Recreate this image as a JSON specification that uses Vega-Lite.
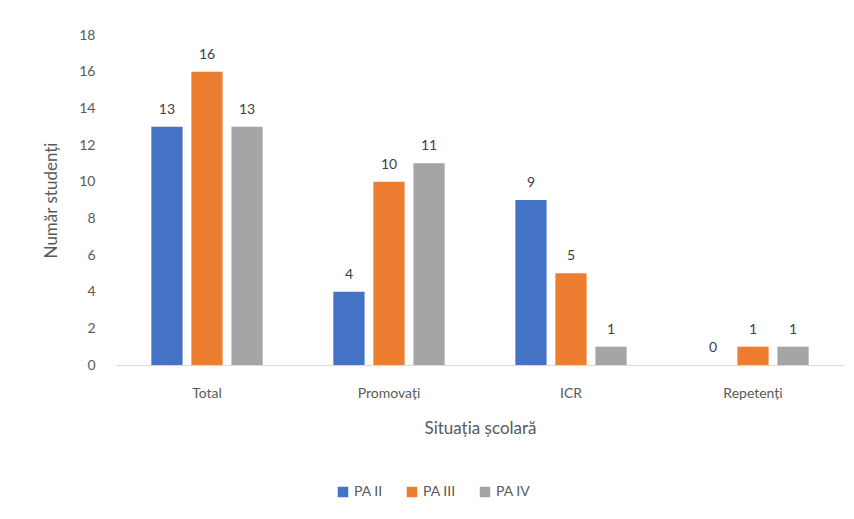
{
  "$schema": "https://vega.github.io/schema/vega-lite/v6.json",
  "autosize": "none",
  "width": 728,
  "height": 330,
  "padding": {"left": 116, "top": 35, "right": 10, "bottom": 154},
  "background": "white",
  "config": {
    "font": "Lato",
    "view": {"stroke": null},
    "axis": {"labelFont": "Lato", "titleFont": "Lato", "labelColor": "#595959", "titleColor": "#595959", "titleFontWeight": "normal"}
  },
  "data": {
    "values": [
      {"cat": "Total", "serie": "PA II", "val": 13},
      {"cat": "Total", "serie": "PA III", "val": 16},
      {"cat": "Total", "serie": "PA IV", "val": 13},
      {"cat": "Promovați", "serie": "PA II", "val": 4},
      {"cat": "Promovați", "serie": "PA III", "val": 10},
      {"cat": "Promovați", "serie": "PA IV", "val": 11},
      {"cat": "ICR", "serie": "PA II", "val": 9},
      {"cat": "ICR", "serie": "PA III", "val": 5},
      {"cat": "ICR", "serie": "PA IV", "val": 1},
      {"cat": "Repetenți", "serie": "PA II", "val": 0},
      {"cat": "Repetenți", "serie": "PA III", "val": 1},
      {"cat": "Repetenți", "serie": "PA IV", "val": 1}
    ]
  },
  "encoding": {
    "x": {
      "field": "cat", "type": "nominal", "sort": ["Total", "Promovați", "ICR", "Repetenți"],
      "scale": {"paddingInner": 0.34, "paddingOuter": 0.17},
      "axis": {"title": "Situația școlară", "labelAngle": 0, "labelFontSize": 14, "titleFontSize": 17, "domainColor": "#d9d9d9", "ticks": false, "labelPadding": 21, "titlePadding": 20}
    },
    "xOffset": {"field": "serie", "type": "nominal", "sort": ["PA II", "PA III", "PA IV"], "scale": {"paddingInner": 0.22, "paddingOuter": 0.11}},
    "y": {
      "field": "val", "type": "quantitative",
      "scale": {"domain": [0, 18]},
      "axis": {"title": "Număr studenți", "values": [0,2,4,6,8,10,12,14,16,18], "grid": false, "domain": false, "ticks": false, "labelFontSize": 14, "titleFontSize": 17, "labelPadding": 21, "titlePadding": 18}
    }
  },
  "layer": [
    {
      "mark": {"type": "bar"},
      "encoding": {
        "color": {
          "field": "serie", "type": "nominal", "sort": ["PA II", "PA III", "PA IV"],
          "scale": {"domain": ["PA II", "PA III", "PA IV"], "range": ["#4472C4", "#ED7D31", "#A5A5A5"]},
          "legend": {"title": null, "orient": "none", "direction": "horizontal", "legendX": 220, "legendY": 450, "labelFontSize": 14, "labelColor": "#595959", "symbolType": "square", "symbolSize": 110, "symbolStrokeWidth": 0, "columnPadding": 22, "labelOffset": 4, "labelFont": "Lato"}
        }
      }
    },
    {
      "mark": {"type": "text", "dy": -17, "fontSize": 14, "color": "#404040"},
      "encoding": {"text": {"field": "val", "type": "quantitative"}}
    }
  ]
}
